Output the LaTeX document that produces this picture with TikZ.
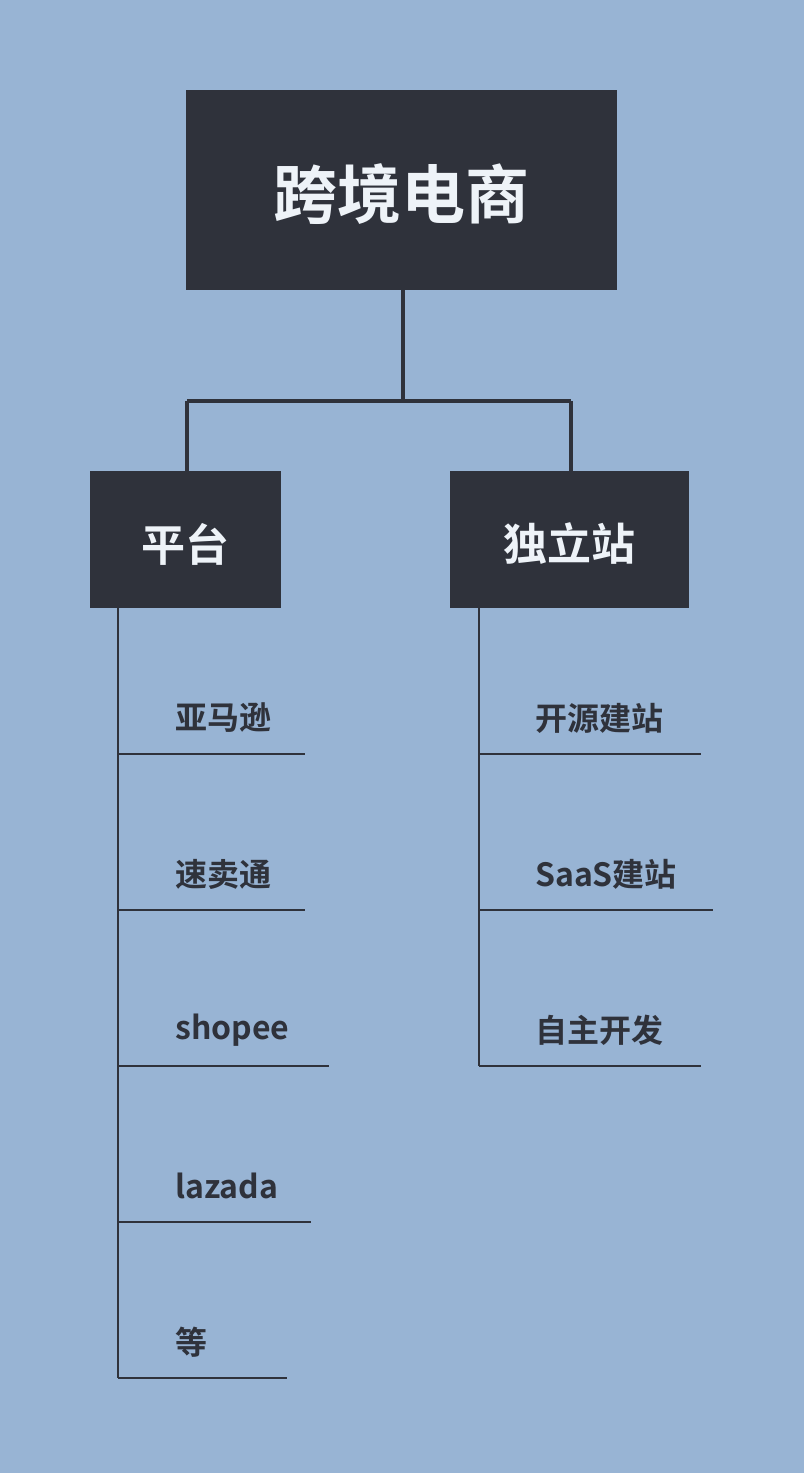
\documentclass[tikz,border=0pt]{standalone}
\usepackage{fontspec}
\setmainfont{Noto Sans CJK SC Bold}
\definecolor{bg}{HTML}{98B4D4}
\definecolor{dk}{HTML}{2F323B}
\definecolor{lt}{HTML}{EEF3F8}
\begin{document}
\begin{tikzpicture}[x=1pt,y=-1pt,
 box/.style={fill=dk,draw=none,inner sep=0},
 lab/.style={anchor=west,text=dk,font=\fontsize{32}{36}\selectfont,inner sep=0},
 ln/.style={draw=dk,line width=2.5pt}]
\fill[bg] (0,0) rectangle (804,1473);
\useasboundingbox (0,0) rectangle (804,1473);
\fill[box] (186,90) rectangle (617,290);
\node[text=lt,font=\fontsize{64}{70}\selectfont] (root) at (401.5,194) {跨境电商};
\fill[box] (90,471) rectangle (281,608);
\node[text=lt,font=\fontsize{44}{50}\selectfont] (pt) at (185.5,544) {平台};
\fill[box] (450,471) rectangle (689,608);
\node[text=lt,font=\fontsize{44}{50}\selectfont] (dl) at (569.5,544) {独立站};
\coordinate (r0) at (403,290);
\draw[ln,line width=4pt] (403,290) -- (403,401) (187,401) -- (571,401) (187,401) -- (187,471) (571,401) -- (571,471);
\draw[ln] (118,608) -- (118,1378);
\draw[ln] (479,608) -- (479,1066);
\foreach \y/\e/\t in {754/305/亚马逊,910/305/速卖通,1066/329/shopee,1222/311/lazada,1378/287/等}{
 \draw[ln] (118,\y) -- (\e,\y);
 \node[lab] at (175,\y-36) {\t};}
\foreach \y/\e/\t in {754/701/开源建站,910/713/SaaS建站,1066/701/自主开发}{
 \draw[ln] (479,\y) -- (\e,\y);
 \node[lab] at (535,\y-36) {\t};}
\end{tikzpicture}
\end{document}
